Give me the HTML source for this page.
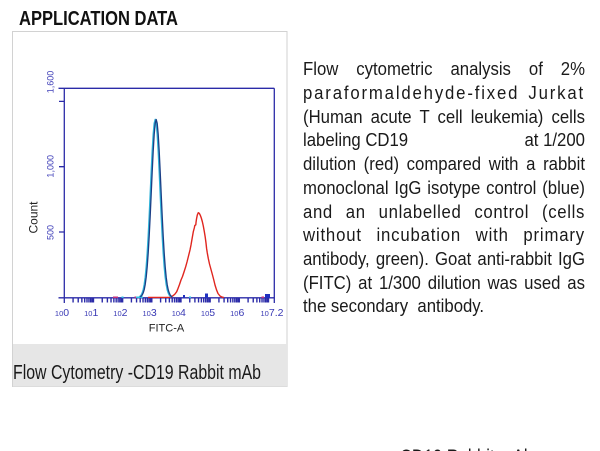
<!DOCTYPE html>
<html>
<head>
<meta charset="utf-8">
<style>
  html, body { margin:0; padding:0; }
  body { width:600px; height:451px; overflow:hidden; position:relative; background:#fff;
         font-family:"Liberation Sans", sans-serif; }
  svg { position:absolute; left:0; top:0; }
  .para { position:absolute; left:303px; top:58.4px; width:306.5px; font-size:18.2px; line-height:23.7px; color:#1a1a1a;
          transform:scaleX(0.92); transform-origin:0 0; }
  .para div { width:306.5px; height:23.7px; text-align:justify; text-align-last:justify; white-space:nowrap; overflow:visible; }
  .para div.last { text-align:left; text-align-last:left; }
  .para div.flex { display:flex; justify-content:space-between; }
</style>
</head>
<body>
<svg width="600" height="451" viewBox="0 0 600 451" xmlns="http://www.w3.org/2000/svg">
  <!-- title -->
  <text x="19" y="25" font-family="Liberation Sans, sans-serif" font-weight="bold" font-size="20.5" fill="#111" textLength="159" lengthAdjust="spacingAndGlyphs">APPLICATION DATA</text>

  <!-- figure box -->
  <rect x="12.5" y="31.5" width="274.5" height="355" fill="#fff" stroke="#d2d2d2" stroke-width="1"/>
  <rect x="13" y="344" width="274" height="42.5" fill="#e6e6e6"/>
  <text x="13" y="379" font-family="Liberation Sans, sans-serif" font-size="20" fill="#1a1a1a" textLength="248" lengthAdjust="spacingAndGlyphs">Flow Cytometry -CD19 Rabbit mAb</text>

  <!-- plot frame -->
  <g stroke="#2b2ba8" stroke-width="1.3" fill="none">
    <path d="M58.5 88.3 H274.3"/>
    <path d="M274.3 88.3 V303"/>
    <path d="M64.3 88.3 V303"/>
    <path d="M58.5 297.8 H274.3"/>
    <path d="M59 101.4 H64.3 M59 166.7 H64.3 M59 232 H64.3"/>
  </g>
  <!-- minor / decade ticks -->
  <g stroke="#2b2ba8" stroke-width="1.4" fill="none">
    <path d="M73.08 298V302.5 M78.22 298V302.5 M81.86 298V302.5 M84.69 298V302.5 M87 298V302.5 M88.95 298V302.5 M90.64 298V302.5 M92.13 298V302.5
             M93.47 298V302.5
             M102.25 298V302.5 M107.39 298V302.5 M111.03 298V302.5 M113.86 298V302.5 M116.17 298V302.5 M118.12 298V302.5 M119.81 298V302.5 M121.3 298V302.5
             M122.64 298V302.5
             M131.42 298V302.5 M136.56 298V302.5 M140.2 298V302.5 M143.03 298V302.5 M145.34 298V302.5 M147.29 298V302.5 M148.98 298V302.5 M150.47 298V302.5
             M151.81 298V302.5
             M160.59 298V302.5 M165.73 298V302.5 M169.37 298V302.5 M172.2 298V302.5 M174.51 298V302.5 M176.46 298V302.5 M178.15 298V302.5 M179.64 298V302.5
             M180.98 298V302.5
             M189.76 298V302.5 M194.9 298V302.5 M198.54 298V302.5 M201.37 298V302.5 M203.68 298V302.5 M205.63 298V302.5 M207.32 298V302.5 M208.81 298V302.5
             M210.15 298V302.5
             M218.93 298V302.5 M224.07 298V302.5 M227.71 298V302.5 M230.54 298V302.5 M232.85 298V302.5 M234.8 298V302.5 M236.49 298V302.5 M237.98 298V302.5
             M239.32 298V302.5
             M248.1 298V302.5 M253.24 298V302.5 M256.88 298V302.5 M259.71 298V302.5 M262.02 298V302.5 M263.97 298V302.5 M265.66 298V302.5 M267.15 298V302.5
             M268.49 298V302.5"/>
  </g>

  <!-- baseline noise -->
  <g stroke-width="1.6" fill="none">
    <path d="M113 297.3 H118" stroke="#c0307a"/>
    <path d="M121.5 297.3 H123.5" stroke="#30c0e0"/>
    <path d="M134.5 297.3 H140" stroke="#c0307a"/>
    <path d="M136 297.3 H143" stroke="#30c0e0"/>
    <path d="M189 297.3 H191" stroke="#30c0e0"/>
    <path d="M261.5 297.3 H264" stroke="#c0307a"/>
  </g>
  <rect x="205" y="293.5" width="3" height="4.5" fill="#2030c0"/>
  <rect x="265" y="294" width="5" height="4" fill="#2030c0"/>
  <rect x="183" y="295" width="2" height="3" fill="#2030c0"/>

  <!-- red curve -->
  <polyline fill="none" stroke="#e0261f" stroke-width="1.4" stroke-linejoin="round"
    points="148,297.4 169.5,297.3 171.5,296.7 173.3,295.5 175,294 176.7,291.7 178,288.5 179.5,284.5 181,280 182.5,276.5 184,272 185.7,266.7 187,262 188.5,256 190,250 191,245 192.2,238 193.3,231.7 194.3,228 194.8,225.5 195.8,224.8 196,222.5 196.5,219 197.3,215 198.3,212.7 199.3,213.3 200.3,215.3 201.3,218 202.3,221.5 203.3,226 204.3,231.5 205.2,237 206,243 206.6,248.5 207.3,253 208.3,258.5 209.5,264 211,269.5 212.5,275 213.8,280 215,285 216.5,289.8 218,293.5 220,296 222,297.1 224,297.5"/>

  <!-- cyan / green curve -->
  <polyline fill="none" stroke="#2fb3d9" stroke-width="1.6" stroke-linejoin="round"
    points="139.3,296.8 140.3,296.2 141.3,295.0 142.3,292.9 143.3,289.7 144.3,284.6 145.3,277.2 146.3,266.8 147.3,253.1 148.3,236.0 149.3,216.0 150.3,194.0 151.3,171.7 152.3,151.1 153.3,134.3 154.3,123.3 155.3,119.5 156.3,123.3 157.3,134.3 158.3,151.1 159.3,171.7 160.3,194.0 161.3,216.0 162.3,236.0 163.3,253.1 164.3,266.8 165.3,277.2 166.3,284.6 167.3,289.7 168.3,292.9 169.3,295.0 170.3,296.2 171.3,296.8"/>
  <!-- navy curve -->
  <polyline fill="none" stroke="#1c3f86" stroke-width="1.3" stroke-linejoin="round"
    points="140.2,296.8 141.2,296.2 142.2,295.0 143.2,292.9 144.2,289.7 145.2,284.6 146.2,277.2 147.2,266.8 148.2,253.1 149.2,236.0 150.2,216.0 151.2,194.0 152.2,171.7 153.2,151.1 154.2,134.3 155.2,123.3 156.2,119.5 157.2,123.3 158.2,134.3 159.2,151.1 160.2,171.7 161.2,194.0 162.2,216.0 163.2,236.0 164.2,253.1 165.2,266.8 166.2,277.2 167.2,284.6 168.2,289.7 169.2,292.9 170.2,295.0 171.2,296.2 172.2,296.8"/>

  <!-- y tick labels -->
  <g font-family="Liberation Sans, sans-serif" font-size="9" fill="#3f3fb8" text-anchor="middle">
    <text transform="translate(53.5,82) rotate(-90)">1,600</text>
    <text transform="translate(53.5,166.3) rotate(-90)">1,000</text>
    <text transform="translate(53.5,232.5) rotate(-90)">500</text>
  </g>
  <text transform="translate(37.5,217.5) rotate(-90)" font-family="Liberation Sans, sans-serif" font-size="12" fill="#222" text-anchor="middle">Count</text>

  <!-- x tick labels -->
  <g font-family="Liberation Sans, sans-serif" fill="#3a3ab5" text-anchor="middle">
    <text x="62" y="315.8"><tspan font-size="7.5">10</tspan><tspan font-size="10.5">0</tspan></text>
    <text x="91.2" y="315.8"><tspan font-size="7.5">10</tspan><tspan font-size="10.5">1</tspan></text>
    <text x="120.4" y="315.8"><tspan font-size="7.5">10</tspan><tspan font-size="10.5">2</tspan></text>
    <text x="149.6" y="315.8"><tspan font-size="7.5">10</tspan><tspan font-size="10.5">3</tspan></text>
    <text x="178.8" y="315.8"><tspan font-size="7.5">10</tspan><tspan font-size="10.5">4</tspan></text>
    <text x="208" y="315.8"><tspan font-size="7.5">10</tspan><tspan font-size="10.5">5</tspan></text>
    <text x="237.2" y="315.8"><tspan font-size="7.5">10</tspan><tspan font-size="10.5">6</tspan></text>
    <text x="272" y="315.8"><tspan font-size="7.5">10</tspan><tspan font-size="10.5">7.2</tspan></text>
  </g>
  <text x="166.5" y="331.5" font-family="Liberation Sans, sans-serif" font-size="11" fill="#222" text-anchor="middle">FITC-A</text>

  <!-- cut-off text at the bottom -->
  <text x="400" y="463.5" font-family="Liberation Sans, sans-serif" font-size="20" fill="#1a1a1a" textLength="133" lengthAdjust="spacingAndGlyphs">CD19 Rabbit mAb</text>
</svg>

<div class="para">
  <div>Flow cytometric analysis of 2%</div>
  <div style="letter-spacing:2px">paraformaldehyde-fixed Jurkat</div>
  <div>(Human acute T cell leukemia) cells</div>
  <div class="flex"><span>labeling CD19</span><span>at 1/200</span></div>
  <div>dilution (red) compared with a rabbit</div>
  <div>monoclonal IgG isotype control (blue)</div>
  <div style="letter-spacing:0.7px">and an unlabelled control (cells</div>
  <div style="letter-spacing:0.9px">without incubation with primary</div>
  <div>antibody, green). Goat anti-rabbit IgG</div>
  <div>(FITC) at 1/300 dilution was used as</div>
  <div class="last">the secondary&nbsp; antibody.</div>
</div>
</body>
</html>
